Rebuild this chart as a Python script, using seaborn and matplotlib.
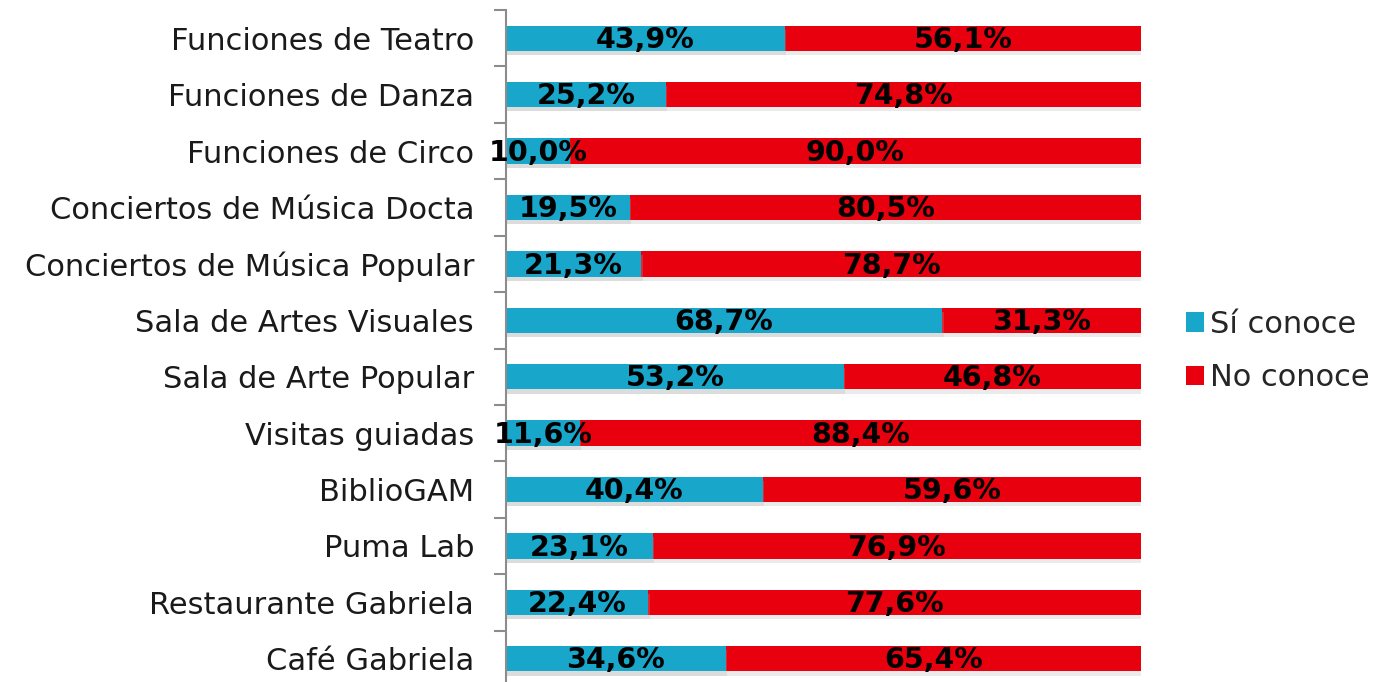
import matplotlib
matplotlib.use("Agg")
import matplotlib.pyplot as plt
import matplotlib.patheffects as pe
import seaborn as sns
import pandas as pd
import numpy as np

categorias = [
    "Funciones de Teatro",
    "Funciones de Danza",
    "Funciones de Circo",
    "Conciertos de Música Docta",
    "Conciertos de Música Popular",
    "Sala de Artes Visuales",
    "Sala de Arte Popular",
    "Visitas guiadas",
    "BiblioGAM",
    "Puma Lab",
    "Restaurante Gabriela",
    "Café Gabriela",
]
si_conoce = [43.9, 25.2, 10.0, 19.5, 21.3, 68.7, 53.2, 11.6, 40.4, 23.1, 22.4, 34.6]
no_conoce = [56.1, 74.8, 90.0, 80.5, 78.7, 31.3, 46.8, 88.4, 59.6, 76.9, 77.6, 65.4]

AZUL = "#18A6CB"
ROJO = "#E8000E"
FUENTE = ["DejaVu Sans"]

df = pd.DataFrame({"categoria": categorias, "si": si_conoce, "no": no_conoce})
df["total"] = df["si"] + df["no"]

sns.set_theme(style="white")
plt.rcParams["font.family"] = FUENTE

fig = plt.figure(figsize=(13.93, 6.82), dpi=100)
ax = fig.add_axes([506 / 1393, -5 / 682, 635 / 1393, 677 / 682])

# full stack (red) drawn first, then the "Sí conoce" share on top
sns.barplot(data=df, y="categoria", x="total", color=ROJO, orient="h",
            width=0.45, ax=ax, saturation=1, label="No conoce")
sns.barplot(data=df, y="categoria", x="si", color=AZUL, orient="h",
            width=0.45, ax=ax, saturation=1, label="Sí conoce")

sombra = [pe.SimplePatchShadow(offset=(1, -3), shadow_rgbFace="#b0b0b0", alpha=0.25),
          pe.Normal()]
for p in ax.patches:
    p.set_edgecolor("none")
    p.set_path_effects(sombra)

# segment labels
for i, (s, n) in enumerate(zip(si_conoce, no_conoce)):
    ax.text(s / 2, i + 0.03, f"{s:.1f}%".replace(".", ","), ha="center", va="center",
            fontsize=20.5, fontweight="bold", color="black", family=FUENTE)
    ax.text(s + n / 2, i + 0.03, f"{n:.1f}%".replace(".", ","), ha="center", va="center",
            fontsize=20.5, fontweight="bold", color="black", family=FUENTE)

ax.set_xlim(0, 100)
ax.set_ylim(len(categorias) - 0.5, -0.5)
ax.set_xlabel("")
ax.set_ylabel("")
ax.set_xticks([])
ax.tick_params(axis="y", which="major", left=False, length=0, pad=23,
               labelsize=22, labelcolor="#1a1a1a")
ax.set_yticks(np.arange(-0.5, len(categorias) + 0.5, 1), minor=True)
ax.tick_params(axis="y", which="minor", left=True, length=9, width=1.5,
               color="#8c8c8c", direction="out")

for side in ["top", "right", "bottom"]:
    ax.spines[side].set_visible(False)
ax.spines["left"].set_color("#8c8c8c")
ax.spines["left"].set_linewidth(1.5)

handles, labels = ax.get_legend_handles_labels()
orden = [labels.index("Sí conoce"), labels.index("No conoce")]
leg = ax.legend([handles[k] for k in orden], [labels[k] for k in orden],
                loc="center left", bbox_to_anchor=(1158 / 1393, 331 / 682),
                bbox_transform=fig.transFigure, frameon=False, fontsize=22,
                handlelength=0.6, handleheight=0.6, handletextpad=0.2,
                labelspacing=0.8)
for h in leg.legend_handles:
    h.set_path_effects([])

fig.savefig("out.png", dpi=100)
